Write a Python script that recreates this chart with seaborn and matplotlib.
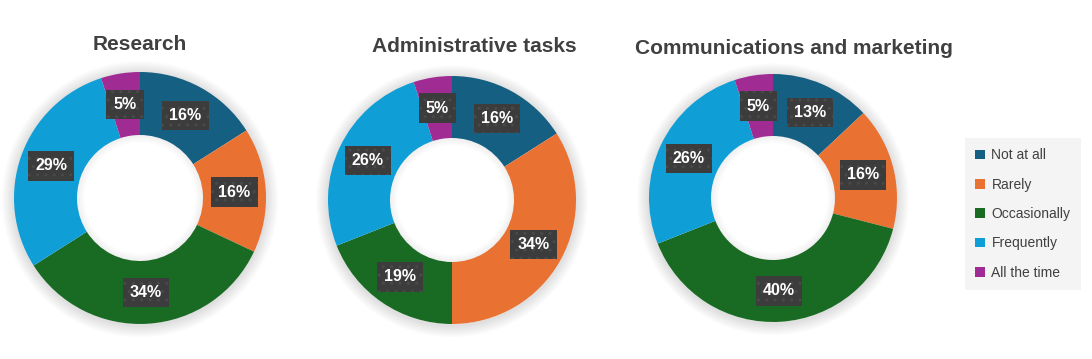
import matplotlib
matplotlib.use("Agg")
import matplotlib.pyplot as plt
from matplotlib.patches import Patch, Wedge
import seaborn as sns

# ---- data ----
categories = ["Not at all", "Rarely", "Occasionally", "Frequently", "All the time"]
titles = ["Research", "Administrative tasks", "Communications and marketing"]
research = [16, 16, 34, 29, 5]
admin = [16, 34, 19, 26, 5]
comms = [13, 16, 40, 26, 5]
series = [research, admin, comms]
colors = ["#156082", "#E97132", "#196B24", "#0F9ED5", "#A02B93"]

sns.set_theme(style="white")
plt.rcParams["font.family"] = ["Liberation Sans", "DejaVu Sans"]
palette = sns.color_palette(colors)

W, H = 1092, 359
fig = plt.figure(figsize=(W / 100, H / 100), dpi=100)
fig.patch.set_facecolor("white")

# pixel geometry: (cx, cy, R)
geom = [(140, 198, 126), (452, 200, 124), (773, 198, 124)]
title_pos = [(140, 44), (474, 47), (794, 49)]
ext = 1.12

for vals, (cx, cy, R), title, (tx, ty) in zip(series, geom, titles, title_pos):
    half = R * ext
    ax = fig.add_axes([(cx - half) / W, (H - cy - half) / H, 2 * half / W, 2 * half / H])
    # soft outer shadow (rings only)
    for k in range(8):
        r = 1.0 + 0.012 * (k + 1)
        ax.add_patch(Wedge((0, -0.01), r, 0, 360, width=r - 0.99, color="black",
                           alpha=0.016, lw=0, zorder=0))
    # faint inner shadow
    for k in range(5):
        ax.add_patch(Wedge((0, 0), 0.5 + 0.0001, 0, 360, width=0.012 * (k + 1),
                           color="black", alpha=0.012, lw=0, zorder=3))
    wedges, texts, autotexts = ax.pie(
        vals, colors=palette, startangle=90, counterclock=False,
        wedgeprops=dict(width=0.5, edgecolor="none", linewidth=0),
        autopct=lambda p: f"{p:.0f}%", pctdistance=0.75, radius=1.0,
    )
    for w in wedges:
        w.set_zorder(2)
    for t in autotexts:
        t.set_color("white")
        t.set_fontsize(11.5)
        t.set_fontweight("bold")
        t.set_zorder(5)
        t.set_bbox(dict(boxstyle="square,pad=0.45", facecolor="#3c3c3c",
                        edgecolor="#4a4a4a", hatch="..", linewidth=0.0))
    ax.set_xlim(-ext, ext)
    ax.set_ylim(-ext, ext)
    ax.set_aspect("equal")
    ax.axis("off")
    fig.text(tx / W, 1 - ty / H, title, ha="center", va="center",
             fontsize=15, fontweight="bold", color="#404040")

handles = [Patch(facecolor=c, edgecolor="none", label=l) for c, l in zip(palette, categories)]
leg = fig.legend(handles=handles, loc="upper left",
                 bbox_to_anchor=(965 / W, 1 - 138 / H),
                 frameon=True, fontsize=10, handlelength=0.7, handleheight=0.7,
                 handletextpad=0.45, labelspacing=1.1, borderpad=0.75,
                 fancybox=False, borderaxespad=0)
leg.get_frame().set_facecolor("#f2f2f2")
leg.get_frame().set_edgecolor("none")
for t in leg.get_texts():
    t.set_color("#404040")

fig.savefig("out.png", dpi=100, facecolor="white")
